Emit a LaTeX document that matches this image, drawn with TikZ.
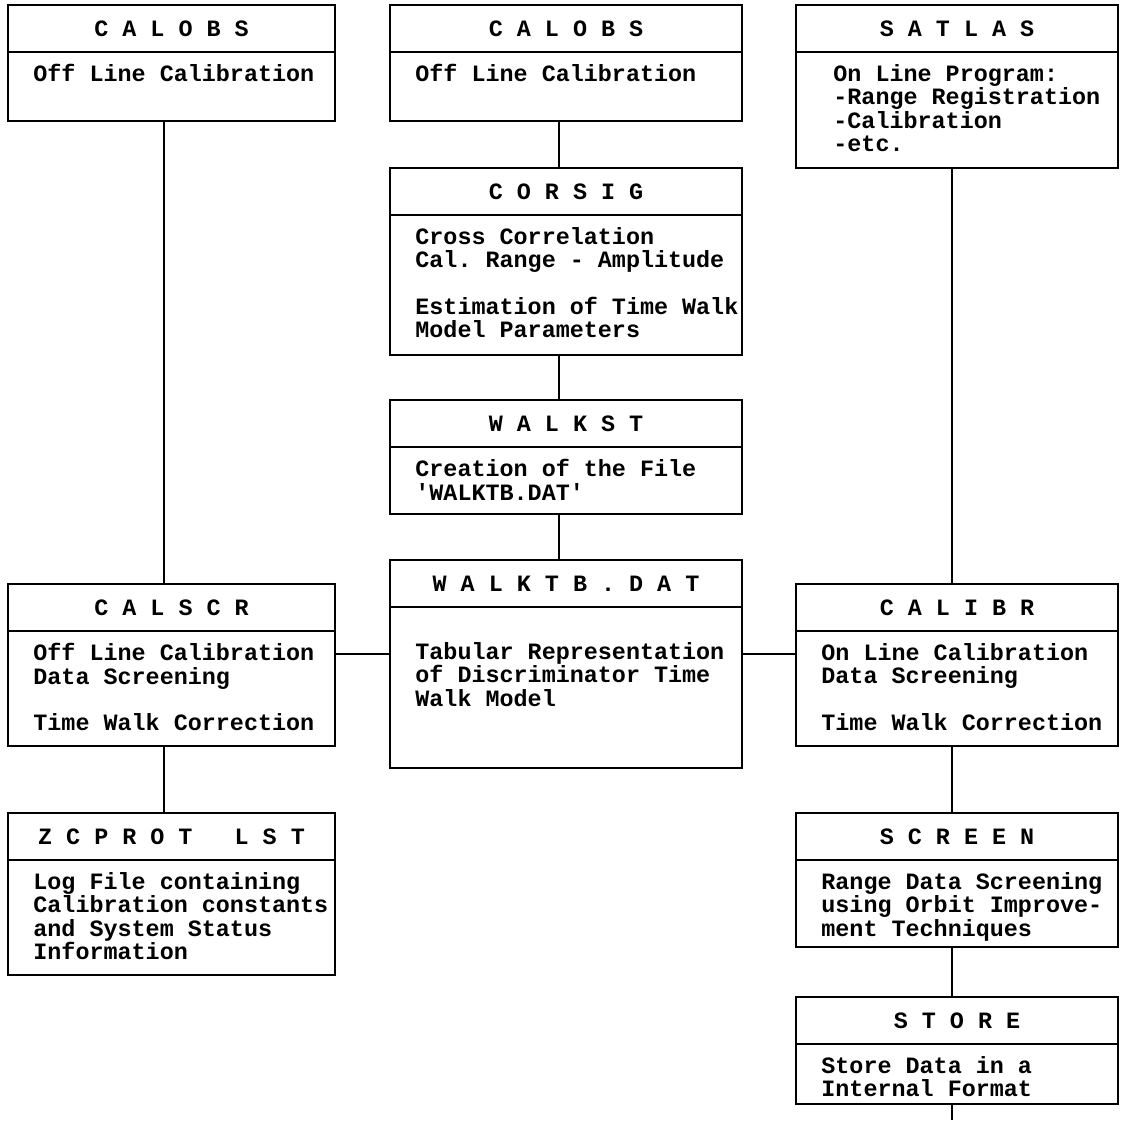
\documentclass[tikz,border=0pt]{standalone}
\usepackage{fontspec}
\newfontfamily\diafont{Liberation Mono}
\usetikzlibrary{positioning}
\frenchspacing

\tikzset{
  boxtitle/.style = {draw, line width=1.2pt, outer sep=0pt, inner sep=0pt,
    anchor=north west, minimum height=23.5pt,
    font=\diafont\bfseries\fontsize{11.7pt}{11.7pt}\selectfont},
  boxbody/.style = {draw, line width=1.2pt, outer sep=0pt, inner sep=0pt},
  boxtext/.style = {anchor=north west, align=left, inner sep=0pt,
    font=\diafont\bfseries\fontsize{11.7pt}{11.7pt}\selectfont},
  link/.style = {line width=1pt}
}

\begin{document}
\begin{tikzpicture}[x=0.5pt, y=-0.5pt]
\useasboundingbox (0,0) rectangle (1125,1120);
% columns and the row of the cross links
\coordinate (colL) at (164,0);
\coordinate (colM) at (559,0);
\coordinate (colR) at (952,0);
\coordinate (rowH) at (0,654);
\coordinate (out) at (952,1120);

% left column
\node [boxtitle, minimum width=163.5pt] (calobsL-t) at (8,5) {C A L O B S};
\node [boxbody, minimum width=163.5pt, minimum height=34.5pt, below=0pt of calobsL-t] (calobsL-b) {};
\node [boxtext] (calobsL-x) at ([shift={(12.5pt,-6pt)}]calobsL-b.north west) {Off Line Calibration};

\node [boxtitle, minimum width=163.5pt] (calscr-t) at (8,584) {C A L S C R};
\node [boxbody, minimum width=163.5pt, minimum height=57.5pt, below=0pt of calscr-t] (calscr-b) {};
\node [boxtext] (calscr-x) at ([shift={(12.5pt,-6pt)}]calscr-b.north west)
  {Off Line Calibration\\Data Screening\\[11.7pt]Time Walk Correction};

\node [boxtitle, minimum width=163.5pt] (zcprot-t) at (8,813) {Z C P R O T~~~L S T};
\node [boxbody, minimum width=163.5pt, minimum height=57.5pt, below=0pt of zcprot-t] (zcprot-b) {};
\node [boxtext] (zcprot-x) at ([shift={(12.5pt,-6pt)}]zcprot-b.north west)
  {Log File containing\\Calibration constants\\and System Status\\Information};

% middle column
\node [boxtitle, minimum width=176pt] (calobsM-t) at (390,5) {C A L O B S};
\node [boxbody, minimum width=176pt, minimum height=34.5pt, below=0pt of calobsM-t] (calobsM-b) {};
\node [boxtext] (calobsM-x) at ([shift={(12.5pt,-6pt)}]calobsM-b.north west) {Off Line Calibration};

\node [boxtitle, minimum width=176pt] (corsig-t) at (390,168) {C O R S I G};
\node [boxbody, minimum width=176pt, minimum height=70pt, below=0pt of corsig-t] (corsig-b) {};
\node [boxtext] (corsig-x) at ([shift={(12.5pt,-6pt)}]corsig-b.north west)
  {Cross Correlation\\Cal. Range - Amplitude\\[11.7pt]Estimation of Time Walk\\Model Parameters};

\node [boxtitle, minimum width=176pt] (walkst-t) at (390,400) {W A L K S T};
\node [boxbody, minimum width=176pt, minimum height=33.5pt, below=0pt of walkst-t] (walkst-b) {};
\node [boxtext] (walkst-x) at ([shift={(12.5pt,-6pt)}]walkst-b.north west)
  {Creation of the File\\\textquotesingle WALKTB.DAT\textquotesingle};

\node [boxtitle, minimum width=176pt] (walktb-t) at (390,560) {W A L K T B . D A T};
\node [boxbody, minimum width=176pt, minimum height=80.5pt, below=0pt of walktb-t] (walktb-b) {};
\node [boxtext] (walktb-x) at ([shift={(12.5pt,-17.5pt)}]walktb-b.north west)
  {Tabular Representation\\of Discriminator Time\\Walk Model};

% right column
\node [boxtitle, minimum width=161pt] (satlas-t) at (796,5) {S A T L A S};
\node [boxbody, minimum width=161pt, minimum height=58pt, below=0pt of satlas-t] (satlas-b) {};
\node [boxtext] (satlas-x) at ([shift={(18.5pt,-6pt)}]satlas-b.north west)
  {On Line Program:\\-Range Registration\\-Calibration\\-etc.};

\node [boxtitle, minimum width=161pt] (calibr-t) at (796,584) {C A L I B R};
\node [boxbody, minimum width=161pt, minimum height=57.5pt, below=0pt of calibr-t] (calibr-b) {};
\node [boxtext] (calibr-x) at ([shift={(12.5pt,-6pt)}]calibr-b.north west)
  {On Line Calibration\\Data Screening\\[11.7pt]Time Walk Correction};

\node [boxtitle, minimum width=161pt] (screen-t) at (796,813) {S C R E E N};
\node [boxbody, minimum width=161pt, minimum height=43.5pt, below=0pt of screen-t] (screen-b) {};
\node [boxtext] (screen-x) at ([shift={(12.5pt,-6pt)}]screen-b.north west)
  {Range Data Screening\\using Orbit Improve-\\ment Techniques};

\node [boxtitle, minimum width=161pt] (store-t) at (796,997) {S T O R E};
\node [boxbody, minimum width=161pt, minimum height=30pt, below=0pt of store-t] (store-b) {};
\node [boxtext] (store-x) at ([shift={(12.5pt,-6pt)}]store-b.north west)
  {Store Data in a\\Internal Format};

% links
\draw [link] (calobsL-b.south -| colL) -- (calscr-t.north -| colL);
\draw [link] (calscr-b.south -| colL) -- (zcprot-t.north -| colL);
\draw [link] (calobsM-b.south -| colM) -- (corsig-t.north -| colM);
\draw [link] (corsig-b.south -| colM) -- (walkst-t.north -| colM);
\draw [link] (walkst-b.south -| colM) -- (walktb-t.north -| colM);
\draw [link] (satlas-b.south -| colR) -- (calibr-t.north -| colR);
\draw [link] (calibr-b.south -| colR) -- (screen-t.north -| colR);
\draw [link] (screen-b.south -| colR) -- (store-t.north -| colR);
\draw [link] (store-b.south -| colR) -- (out);
\draw [link] (calscr-b.east |- rowH) -- (walktb-b.west |- rowH);
\draw [link] (walktb-b.east |- rowH) -- (calibr-b.west |- rowH);
\end{tikzpicture}
\end{document}
